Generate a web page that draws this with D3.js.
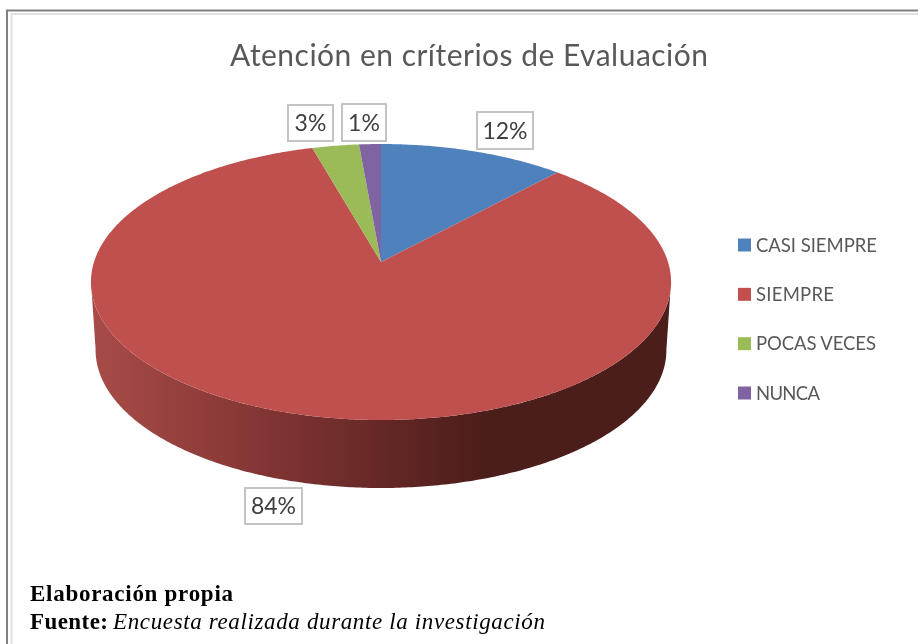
<!DOCTYPE html>
<html><head><meta charset="utf-8">
<script src="https://cdn.jsdelivr.net/npm/d3@7"></script>
<style>html,body{margin:0;padding:0;background:#fff}svg{display:block}</style>
</head><body><div id="chart"></div>
<script>
const categories = ["CASI SIEMPRE","SIEMPRE","POCAS VECES","NUNCA"];
const seriesValues = [11.9,83.7,3.0,1.4];
const colors = ["#4F81BD","#C0504D","#9BBB59","#8064A2"];
const titleText = "Atención en críterios de Evaluación";
const footerLine1 = "Elaboración propia";
const footerBold = "Fuente:";
const footerItalic = "Encuesta realizada durante la investigación";

const W=918,H=644;
const svg=d3.select("#chart").append("svg").attr("width",W).attr("height",H);
const defs=svg.append("defs");
const blur=defs.append("filter").attr("id","soft").attr("x","-5%").attr("y","-5%").attr("width","110%").attr("height","110%");
blur.append("feGaussianBlur").attr("stdDeviation",0.45);

// frame
svg.append("path").attr("d",`M7 ${H}V10.5H${W}`).attr("fill","none").attr("stroke","#808080").attr("stroke-width",2);
svg.append("path").attr("d",`M11.5 ${H}V14H${W}`).attr("fill","none").attr("stroke","#e0e0e0").attr("stroke-width",2);

// tilted disc: circle -> screen homography
const cx=381,apexY=262,c=0.145,b=-97.1,R=287;
function project(theta){
  const x=Math.sin(theta),y=Math.cos(theta),w=1+c*y;
  return [cx+R*x/w,(apexY+b*y)/w];
}
const line=d3.line();
const ringAngles=(a0,a1,step=0.01)=>{const n=Math.max(2,Math.ceil(Math.abs(a1-a0)/step));return d3.range(n+1).map(i=>a0+(a1-a0)*i/n);};

// side wall
const depth=68,taper=0.984;
const grad=defs.append("linearGradient").attr("id","wall").attr("gradientUnits","userSpaceOnUse")
  .attr("x1",95).attr("x2",485).attr("y1",0).attr("y2",0);
grad.selectAll("stop").data([[0,"#a84b48"],[0.5,"#7c3230"],[1,"#4b1d1b"]]).join("stop")
  .attr("offset",d=>d[0]).attr("stop-color",d=>d[1]);
const t0=98*Math.PI/180,t1=262*Math.PI/180;
const wallPts=ringAngles(t0,t1).map(project)
  .concat(ringAngles(t1,t0).map(t=>{const p=project(t);return [cx+(p[0]-cx)*taper,p[1]+depth];}));
svg.append("path").attr("d",line(wallPts)+"Z").attr("fill","url(#wall)");

// top face
const pie=d3.pie().sort(null).value(d=>d);
const arcs=pie(seriesValues);
svg.append("g").selectAll("path").data(arcs).join("path")
  .attr("d",d=>line([[cx,apexY]].concat(ringAngles(d.startAngle,d.endAngle).map(project)))+"Z")
  .attr("fill",(d,i)=>colors[i]);

// data labels
const labelBoxes=[[477,112,56,37],[245,488,57,36],[288,105,45,36],[342,104,44,37]];
const pct=d3.format(".0%"),tot=d3.sum(seriesValues);
const lab=svg.append("g").attr("filter","url(#soft)").selectAll("g").data(seriesValues).join("g");
lab.append("rect").attr("x",(d,i)=>labelBoxes[i][0]).attr("y",(d,i)=>labelBoxes[i][1])
  .attr("width",(d,i)=>labelBoxes[i][2]).attr("height",(d,i)=>labelBoxes[i][3])
  .attr("fill","#fff").attr("stroke","#c4c4c4").attr("stroke-width",2);
lab.append("text").attr("x",(d,i)=>labelBoxes[i][0]+labelBoxes[i][2]/2)
  .attr("y",(d,i)=>labelBoxes[i][1]+labelBoxes[i][3]/2+8)
  .attr("text-anchor","middle").attr("font-family","Lato, 'Open Sans', sans-serif").attr("font-size",23)
  .attr("fill","#404040").text(d=>pct(d/tot));

// title
svg.append("text").attr("filter","url(#soft)").attr("x",230).attr("y",66)
  .attr("font-family","Lato, 'Open Sans', sans-serif").attr("font-size",30).attr("fill","#595959")
  .attr("textLength",478).attr("lengthAdjust","spacing").text(titleText);

// legend
const legY=d3.scalePoint().domain(categories).range([245,393]);
const legW=[121,78,120,64];
const leg=svg.append("g").attr("filter","url(#soft)").selectAll("g").data(categories).join("g");
leg.append("rect").attr("x",738).attr("y",d=>legY(d)-6.5).attr("width",13).attr("height",13)
  .attr("fill",(d,i)=>colors[i]);
leg.append("text").attr("x",756).attr("y",d=>legY(d)+6.5)
  .attr("font-family","Lato, 'Open Sans', sans-serif").attr("font-size",18.5).attr("fill","#595959")
  .attr("textLength",(d,i)=>legW[i]).attr("lengthAdjust","spacing").text(d=>d);

// footer
const foot=svg.append("g").attr("filter","url(#soft)").attr("font-family","'Liberation Serif', serif").attr("font-size",23).attr("fill","#000");
foot.append("text").attr("x",30).attr("y",601).attr("font-weight","bold").attr("textLength",203).text(footerLine1);
foot.append("text").attr("x",30).attr("y",629).attr("font-weight","bold").attr("textLength",78).text(footerBold);
foot.append("text").attr("x",113).attr("y",629).attr("font-style","italic").attr("textLength",432).text(footerItalic);
</script></body></html>
